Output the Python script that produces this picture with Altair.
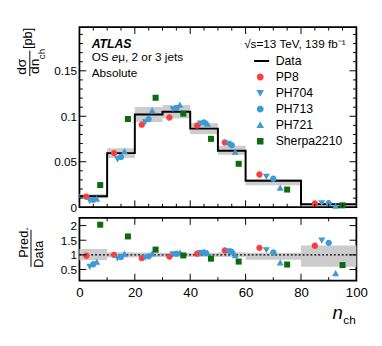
import altair as alt
import pandas as pd

FONT = "Liberation Sans"

# ---------------- data ----------------
edges = [0, 10, 20, 30, 40, 50, 60, 80, 100]
data_xsec = [0.0120, 0.0595, 0.1020, 0.1050, 0.0864, 0.0620, 0.0290, 0.0032]
unc_up = [0.20, 0.09, 0.08, 0.07, 0.07, 0.09, 0.07, 0.32]
unc_down = [0.18, 0.09, 0.08, 0.07, 0.07, 0.07, 0.17, 0.41]

series = ["PP8", "PH704", "PH713", "PH721", "Sherpa2210"]
ratio_pp8 = [0.97, 1.00, 0.89, 0.94, 1.04, 1.15, 1.24, 1.31]
ratio_ph704 = [0.60, 0.89, 0.92, 1.03, 1.07, 1.13, 1.17, 1.50]
ratio_ph713 = [0.68, 0.93, 0.95, 1.04, 1.08, 1.10, 1.08, 1.41]
ratio_ph721 = [0.75, 1.03, 1.04, 1.07, 1.06, 0.98, 0.73, 0.36]
ratio_sherpa = [2.03, 1.63, 1.18, 0.98, 0.87, 0.77, 0.67, 0.65]
ratios = [ratio_pp8, ratio_ph704, ratio_ph713, ratio_ph721, ratio_sherpa]

x_labels = [0, 20, 40, 60, 80, 100]
top_y_labels = [0, 0.05, 0.1, 0.15]
bot_y_labels = [0.5, 1, 1.5, 2]

# ---------------- styling ----------------
marker_offsets = [0.25, 0.375, 0.5, 0.625, 0.75]
legend_domain = ["Data"] + series
fill_range = ["transparent", "#ff3b3b", "#3c9ad6", "#3c9ad6", "#3c9ad6", "#0d6b0d"]
stroke_range = ["black", "transparent", "transparent", "transparent", "transparent", "transparent"]
shape_range = [
    "M-2.6,0H2.6",
    "M-1,0A1,1,0,1,1,1,0A1,1,0,1,1,-1,0Z",
    "M-1.1,-0.85L1.1,-0.85L0,1.1Z",
    "M-1,0A1,1,0,1,1,1,0A1,1,0,1,1,-1,0Z",
    "M-1.1,0.85L1.1,0.85L0,-1.1Z",
    "M-0.95,-0.95H0.95V0.95H-0.95Z",
]

W, H1, H2 = 283, 184, 64

# ---------------- tables ----------------
bins = pd.DataFrame({
    "lo": edges[:-1],
    "hi": edges[1:],
    "data": data_xsec,
    "up": unc_up,
    "down": unc_down,
})
bins["b_lo"] = bins["data"] * (1 - bins["down"])
bins["b_hi"] = bins["data"] * (1 + bins["up"])
bins["r_lo"] = 1 - bins["down"]
bins["r_hi"] = 1 + bins["up"]

step = pd.DataFrame({"x": edges, "y": data_xsec + [data_xsec[-1]]})

rows = []
for s, off, rr in zip(series, marker_offsets, ratios):
    for i in range(len(data_xsec)):
        lo, hi = edges[i], edges[i + 1]
        rows.append({"series": s, "x": lo + off * (hi - lo), "ratio": rr[i],
                     "xsec": rr[i] * data_xsec[i]})
pts = pd.DataFrame(rows)

# ---------------- scales / axes ----------------
xs = alt.Scale(domain=[0, 100], nice=False, zero=False)
ys1 = alt.Scale(domain=[0, 0.198], nice=False, zero=False)
ys2 = alt.Scale(domain=[0.12, 2.26], nice=False, zero=False)

ax_top_x = alt.Axis(labels=False, ticks=False, domain=False, grid=False, title=None)
ax_bot_x = alt.Axis(values=x_labels, ticks=False, domain=False, grid=False, title=None,
                    labelFontSize=13.5, labelPadding=5, labelFont=FONT, labelColor="black",
                    labelFlush=False)
ax_top_y = alt.Axis(values=top_y_labels, format="~g", ticks=False, domain=False, grid=False,
                    title=None, labelFontSize=12, labelPadding=3, labelFont=FONT,
                    labelColor="black")
ax_bot_y = alt.Axis(values=bot_y_labels, format="~g", ticks=False, domain=False, grid=False,
                    title=None, labelFontSize=12, labelPadding=3, labelFont=FONT,
                    labelColor="black")

fill_scale = alt.Scale(domain=legend_domain, range=fill_range)
stroke_scale = alt.Scale(domain=legend_domain, range=stroke_range)
shape_scale = alt.Scale(domain=legend_domain, range=shape_range)


def leg():
    return alt.Legend(title=None, orient="none", legendX=178.5, legendY=28, padding=0,
                      labelFont=FONT, labelFontSize=12.5, labelColor="black",
                      symbolSize=49, symbolStrokeWidth=2, labelOffset=9.5,
                      clipHeight=13, rowPadding=3.4)


def txt(t, x, y, size=12, align="left", angle=0, **kw):
    return alt.Chart(pd.DataFrame({"t": [t]})).mark_text(
        align=align, baseline="middle", fontSize=size, font=FONT, color="black",
        angle=angle, **kw).encode(x=alt.value(x), y=alt.value(y), text="t:N")


def xticks(vals, H, L, xax):
    b = alt.Chart(pd.DataFrame({"v": vals})).mark_rule(color="black", strokeWidth=1)
    return [
        b.encode(x=alt.X("v:Q", scale=xs, axis=xax), y=alt.value(H), y2=alt.value(H - L)),
        b.encode(x=alt.X("v:Q", scale=xs, axis=xax), y=alt.value(0), y2=alt.value(L)),
    ]


def yticks(vals, L, ysc, yax):
    b = alt.Chart(pd.DataFrame({"v": vals})).mark_rule(color="black", strokeWidth=1)
    return [
        b.encode(y=alt.Y("v:Q", scale=ysc, axis=yax), x=alt.value(0), x2=alt.value(L)),
        b.encode(y=alt.Y("v:Q", scale=ysc, axis=yax), x=alt.value(W), x2=alt.value(W - L)),
    ]


# ---------------- top panel ----------------
band_top = alt.Chart(bins).mark_rect(color="#cccccc").encode(
    x=alt.X("lo:Q", scale=xs, axis=ax_top_x), x2="hi:Q",
    y=alt.Y("b_lo:Q", scale=ys1, axis=ax_top_y), y2="b_hi:Q")

line_top = alt.Chart(step).mark_line(interpolate="step-after", color="black",
                                     strokeWidth=2).encode(
    x=alt.X("x:Q", scale=xs, axis=ax_top_x),
    y=alt.Y("y:Q", scale=ys1, axis=ax_top_y))

pts_top = alt.Chart(pts).mark_point(filled=True, size=42, strokeWidth=2, opacity=1).encode(
    x=alt.X("x:Q", scale=xs, axis=ax_top_x),
    y=alt.Y("xsec:Q", scale=ys1, axis=ax_top_y),
    fill=alt.Fill("series:N", scale=fill_scale, legend=leg()),
    stroke=alt.Stroke("series:N", scale=stroke_scale, legend=leg()),
    shape=alt.Shape("series:N", scale=shape_scale, legend=leg()),
)

top_layers = [band_top, line_top, pts_top]
top_layers += xticks([5, 10, 15, 25, 30, 35, 45, 50, 55, 65, 70, 75, 85, 90, 95], H1, 3.5, ax_top_x)
top_layers += xticks([20, 40, 60, 80], H1, 7, ax_top_x)
top_layers += yticks([0.01, 0.02, 0.03, 0.04, 0.06, 0.07, 0.08, 0.09, 0.11, 0.12, 0.13,
                      0.14, 0.16, 0.17, 0.18, 0.19], 3.5, ys1, ax_top_y)
top_layers += yticks([0.05, 0.1, 0.15], 7, ys1, ax_top_y)
top_layers += [
    txt("ATLAS", 12.5, 17, 12.5, fontWeight="bold", fontStyle="italic"),
    txt("OS", 12.5, 31, 12),
    txt("e", 33.0, 31, 12, fontStyle="italic"),
    txt("μ, 2 or 3 jets", 39.7, 31, 12),
    txt("Absolute", 12.5, 47, 12),
    txt("√s=13 TeV, 139 fb⁻¹", 272, 17, 12, align="right"),
    txt("dσ", -59, 40.5, 14, align="center", angle=270),
    txt("dn", -45, 40, 14, align="center", angle=270),
    txt("ch", -38.5, 27.5, 10, align="center", angle=270),
    txt("[pb]", -52.5, 11.5, 13, align="center", angle=270),
    alt.Chart(pd.DataFrame({"t": [0]})).mark_rule(color="black", strokeWidth=1).encode(
        x=alt.value(-50.7), y=alt.value(24), y2=alt.value(50)),
]

top = alt.layer(*top_layers).properties(width=W, height=H1)

# ---------------- bottom panel ----------------
band_bot = alt.Chart(bins).mark_rect(color="#cccccc").encode(
    x=alt.X("lo:Q", scale=xs, axis=ax_bot_x), x2="hi:Q",
    y=alt.Y("r_lo:Q", scale=ys2, axis=ax_bot_y), y2="r_hi:Q")

one = alt.Chart(pd.DataFrame({"one": [1.0]})).mark_rule(
    color="black", strokeWidth=1.2, strokeDash=[2, 2]).encode(
    y=alt.Y("one:Q", scale=ys2, axis=ax_bot_y), x=alt.value(0), x2=alt.value(W))

pts_bot = alt.Chart(pts).mark_point(filled=True, size=42, strokeWidth=2, opacity=1).encode(
    x=alt.X("x:Q", scale=xs, axis=ax_bot_x),
    y=alt.Y("ratio:Q", scale=ys2, axis=ax_bot_y),
    fill=alt.Fill("series:N", scale=fill_scale, legend=None),
    stroke=alt.Stroke("series:N", scale=stroke_scale, legend=None),
    shape=alt.Shape("series:N", scale=shape_scale, legend=None),
)

bot_layers = [band_bot, one, pts_bot]
bot_layers += xticks([10, 30, 50, 70, 90], H2, 3.5, ax_bot_x)
bot_layers += xticks([20, 40, 60, 80], H2, 7, ax_bot_x)
bot_layers += yticks([0.5, 1, 1.5, 2], 7, ys2, ax_bot_y)
bot_layers += [
    txt("Pred.", -57, 25, 13, align="center", angle=270),
    txt("Data", -41.5, 37, 13, align="center", angle=270),
    alt.Chart(pd.DataFrame({"t": [0]})).mark_rule(color="black", strokeWidth=1).encode(
        x=alt.value(-49.5), y=alt.value(12), y2=alt.value(50)),
    txt("n", 264, 97, 19, align="center", fontStyle="italic"),
    txt("ch", 276, 104, 12, align="center"),
]

bottom = alt.layer(*bot_layers).properties(width=W, height=H2)

chart = alt.vconcat(top, bottom, spacing=11, bounds="flush").resolve_scale(
    fill="independent", stroke="independent", shape="independent"
).properties(
    padding={"left": 6, "top": 14, "right": 5, "bottom": 5},
).configure_view(stroke="black", strokeWidth=1.8)

chart.save("out.html", embed_options={"renderer": "svg", "actions": False})
